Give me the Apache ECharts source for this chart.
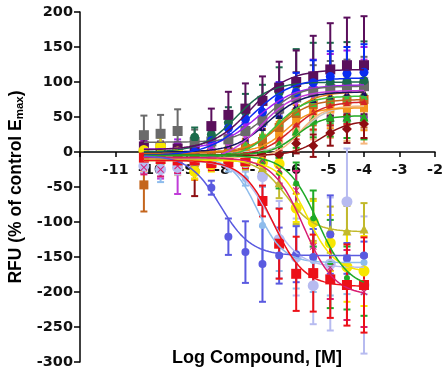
<!DOCTYPE html>
<html>
<head>
<meta charset="utf-8">
<script src="https://cdn.jsdelivr.net/npm/echarts@6/dist/echarts.min.js"></script>
<style>
  html, body { margin: 0; padding: 0; background: #fff; }
  #chart { width: 443px; height: 378px; }
</style>
</head>
<body>
<div id="chart"></div>
<script>
// Log molar concentrations (3-fold dilution series from 100 µM)
const doses = [-10.20, -9.73, -9.25, -8.77, -8.30, -7.82, -7.34, -6.86, -6.39, -5.91, -5.43, -4.95, -4.48, -4.00];

// Axis ticks
const xTicks = [-12, -2, 1];          // min, max, step
const yTicks = [-300, 200, 50];

// Each compound: mean response, SEM, and fitted 4PL parameters
// [low-dose plateau, high-dose plateau, logEC50, hill]
const silverMean = [0, -2, 0, 2, 2, 3, 5, 10, 20, 35, 55, 62, 65, 66];
const silverErr  = [8, 8, 8, 8, 8, 10, 12, 14, 18, 22, 26, 30, 32, 34];
const silverFit  = [0, 66, -5.7, 1.2];

const peachMean = [-12, -14, -15, -20, -10, -5, 0, 5, 15, 32, 52, 60, 62, 62];
const peachErr  = [16, 16, 18, 18, 12, 14, 16, 20, 25, 30, 34, 40, 46, 50];
const peachFit  = [-8, 66, -5.8, 1.3];

const orangeMean = [5, 8, 2, -8, 0, 2, 5, 10, 25, 45, 58, 62, 62, 63];
const orangeErr  = [10, 14, 10, 32, 10, 10, 12, 14, 18, 22, 26, 28, 30, 32];
const orangeFit  = [0, 63, -6.2, 1.2];

const siennaMean = [-47, 2, -5, -12, -2, 0, 5, 15, 35, 55, 68, 72, 74, 75];
const siennaErr  = [38, 10, 10, 12, 10, 12, 14, 18, 22, 26, 30, 34, 36, 40];
const siennaFit  = [-2, 75, -6.4, 1.0];

const amberMean = [3, 2, 0, -2, 0, 5, 12, 25, 45, 65, 78, 82, 84, 85];
const amberErr  = [8, 8, 8, 8, 8, 10, 12, 16, 20, 24, 28, 30, 32, 34];
const amberFit  = [0, 86, -6.3, 1.0];

const limeMean = [-10, -12, -8, -5, -3, 2, 10, 25, 42, 58, 70, 75, 78, 80];
const limeErr  = [10, 10, 10, 10, 10, 12, 14, 18, 22, 26, 30, 34, 36, 38];
const limeFit  = [-8, 80, -6.5, 1.0];

const brickMean = [-4, -6, -5, -8, -6, -4, 0, 8, 20, 40, 58, 66, 70, 72];
const brickErr  = [8, 8, 8, 8, 8, 10, 12, 14, 18, 22, 26, 28, 30, 32];
const brickFit  = [-5, 72, -6.0, 1.0];

const navyMean = [2, 0, 2, 2, 5, 10, 20, 35, 52, 66, 75, 80, 84, 85];
const navyErr  = [8, 8, 8, 8, 10, 12, 14, 18, 22, 26, 30, 32, 34, 36];
const navyFit  = [0, 86, -6.7, 0.9];

const orchidMean = [-12, -18, -25, -6, 0, 8, 22, 38, 58, 70, 80, 86, 88, 90];
const orchidErr  = [18, 20, 35, 14, 14, 16, 18, 22, 26, 30, 34, 36, 40, 42];
const orchidFit  = [-12, 88, -6.9, 0.9];

const violetMean = [6, 5, 8, 5, 8, 20, 36, 45, 68, 76, 88, 94, 95, 100];
const violetErr  = [10, 9, 10, 10, 12, 16, 22, 26, 32, 38, 44, 46, 50, 50];
const violetFit  = [4, 96, -7.0, 0.8];

const greenMean = [-5, -8, -3, -2, -4, -2, 0, 5, 12, 30, 47, 50, 50, 50];
const greenErr  = [8, 8, 8, 8, 8, 10, 12, 16, 20, 24, 26, 28, 30, 32];
const greenFit  = [-4, 52, -5.9, 1.2];

const grayMean = [24, 26, 30, 14, 15, 18, 30, 45, 62, 78, 86, 90, 92, 94];
const grayErr  = [28, 27, 31, 18, 18, 20, 24, 28, 32, 36, 38, 40, 40, 42];
const grayFit  = [14, 94, -6.7, 1.0];

const pineMean = [2, 1, 2, 21, 25, 42, 57, 72, 85, 97, 100, 100, 101, 102];
const pineErr  = [6, 6, 6, 14, 14, 22, 26, 24, 36, 50, 56, 56, 56, 56];
const pineFit  = [0, 100, -7.6, 0.9];

const plumMean = [8, 6, 5, 2, 37, 53, 62, 73, 92, 100, 108, 118, 124, 124];
const plumErr  = [10, 9, 9, 10, 25, 33, 36, 35, 37, 45, 58, 66, 68, 70];
const plumFit  = [3, 118, -7.2, 0.8];

const blueMean = [-8, -6, -4, 0, 16, 34, 47, 57, 75, 85, 99, 108, 112, 114];
const blueErr  = [6, 6, 6, 8, 12, 14, 18, 20, 24, 28, 32, 36, 38, 40];
const blueFit  = [-5, 106, -7.2, 0.75];

const maroonMean = [-3, -2, -5, -25, -8, -6, -5, -4, -4, 12, 9, 27, 33, 40];
const maroonErr  = [6, 6, 8, 38, 10, 8, 8, 10, 12, 14, 16, 18, 20, 20];
const maroonFit  = [-5, 45, -5.2, 1.1];

const skyMean = [-5, -8, -12, -10, -8, -20, -38, -105, -125, -150, -155, -160, -158, -158];
const skyErr  = [8, 35, 10, 10, 10, 8, 10, 55, 45, 45, 45, 45, 45, 45];
const skyFit  = [-8, -158, -7.0, 1.2];

const lavenderMean = [-20, -25, -22, -15, -10, -10, -15, -35, -125, -150, -191, -160, -71, -190];
const lavenderErr  = [10, 10, 10, 10, 10, 10, 12, 40, 55, 55, 55, 95, 76, 98];
const lavenderFit  = [-12, -165, -6.7, 1.0];

const oliveMean = [-8, -10, -12, -15, -12, -10, -15, -22, -44, -75, -97, -111, -113, -110];
const oliveErr  = [8, 8, 8, 8, 8, 8, 10, 14, 22, 28, 30, 33, 36, 37];
const oliveFit  = [-10, -114, -6.2, 1.1];

const yellowMean = [2, 8, 0, -28, -18, -12, -10, -15, -17, -80, -100, -130, -164, -170];
const yellowErr  = [8, 12, 8, 10, 10, 8, 8, 10, 14, 20, 30, 40, 50, 50];
const yellowFit  = [-12, -172, -5.6, 1.1];

const leafMean = [-5, -5, -5, -8, -10, -5, -8, -15, -30, -45, -95, -160, -180, -190];
const leafErr  = [6, 6, 6, 6, 6, 8, 10, 14, 22, 30, 40, 63, 45, 44];
const leafFit  = [-5, -195, -5.3, 1.0];

const magentaMean = [-22, -25, -20, -12, -10, -8, -8, -12, -25, -55, -135, -165, -190, -200];
const magentaErr  = [10, 10, 10, 8, 8, 8, 10, 12, 20, 28, 40, 45, 50, 50];
const magentaFit  = [-8, -205, -5.7, 1.0];

const slateMean = [-6, -8, -10, -14, -51, -121, -143, -160, -148, -146, -150, -118, -152, -148];
const slateErr  = [8, 8, 8, 10, 10, 26, 44, 54, 40, 40, 40, 56, 22, 20];
const slateFit  = [-5, -148, -8.05, 1.0];

const redMean = [-8, -10, -12, -12, -16, -15, -13, -70, -131, -174, -173, -182, -190, -190];
const redErr  = [6, 6, 6, 8, 10, 8, 10, 22, 50, 53, 55, 55, 58, 68];
const redFit  = [-12, -192, -6.55, 1.0];

const CROSS = 'path://M1,0L5,4L9,0L10,1L6,5L10,9L9,10L5,6L1,10L0,9L4,5L0,1Z';

// Drawing order and marker styles (later entries are drawn on top)
const compounds = [
  { mean: silverMean,  err: silverErr,  fit: silverFit,  color: '#c4c4c4', symbol: 'circle',   size: 7 },
  { mean: peachMean,   err: peachErr,   fit: peachFit,   color: '#f6b77e', symbol: 'rect',     size: 8 },
  { mean: orangeMean,  err: orangeErr,  fit: orangeFit,  color: '#f5951c', symbol: 'rect',     size: 8 },
  { mean: siennaMean,  err: siennaErr,  fit: siennaFit,  color: '#c4651c', symbol: 'rect',     size: 9 },
  { mean: amberMean,   err: amberErr,   fit: amberFit,   color: '#e07a10', symbol: 'triangle', size: 8 },
  { mean: limeMean,    err: limeErr,    fit: limeFit,    color: '#3cbf3c', symbol: 'triangle', size: 8 },
  { mean: brickMean,   err: brickErr,   fit: brickFit,   color: '#d42424', symbol: 'triangle', size: 7 },
  { mean: navyMean,    err: navyErr,    fit: navyFit,    color: '#14145e', symbol: 'triangle', size: 7 },
  { mean: orchidMean,  err: orchidErr,  fit: orchidFit,  color: '#c03cd8', symbol: 'triangle', size: 9, rotate: 180 },
  { mean: violetMean,  err: violetErr,  fit: violetFit,  color: '#a21ff0', symbol: 'triangle', size: 9, rotate: 180 },
  { mean: greenMean,   err: greenErr,   fit: greenFit,   color: '#22a822', symbol: 'triangle', size: 9 },
  { mean: grayMean,    err: grayErr,    fit: grayFit,    color: '#6a6a6a', symbol: 'rect',     size: 10 },
  { mean: pineMean,    err: pineErr,    fit: pineFit,    color: '#1b6b4c', symbol: 'circle',   size: 9 },
  { mean: plumMean,    err: plumErr,    fit: plumFit,    color: '#5a0f5c', symbol: 'rect',     size: 10 },
  { mean: blueMean,    err: blueErr,    fit: blueFit,    color: '#0a2cf0', symbol: 'circle',   size: 9 },
  { mean: maroonMean,  err: maroonErr,  fit: maroonFit,  color: '#8e0e12', symbol: 'diamond',  size: 10 },
  { mean: skyMean,     err: skyErr,     fit: skyFit,     color: '#8ebcec', symbol: 'circle',   size: 7 },
  { mean: lavenderMean,err: lavenderErr,fit: lavenderFit,color: '#b7bbf0', symbol: 'circle',   size: 11 },
  { mean: oliveMean,   err: oliveErr,   fit: oliveFit,   color: '#c2b92c', symbol: 'triangle', size: 9 },
  { mean: yellowMean,  err: yellowErr,  fit: yellowFit,  color: '#f7e600', symbol: 'circle',   size: 11 },
  { mean: leafMean,    err: leafErr,    fit: leafFit,    color: '#1eaa28', symbol: 'circle',   size: 6 },
  { mean: magentaMean, err: magentaErr, fit: magentaFit, color: '#d81c72', symbol: CROSS,      size: 7 },
  { mean: slateMean,   err: slateErr,   fit: slateFit,   color: '#5a5ae0', symbol: 'circle',   size: 8 },
  { mean: redMean,     err: redErr,     fit: redFit,     color: '#ec1018', symbol: 'rect',     size: 10 }
];

// Four-parameter logistic fit: low-dose plateau -> high-dose plateau
function logistic(p, x) {
  const [start, end, ec50, hill] = p;
  return start + (end - start) / (1 + Math.pow(10, (ec50 - x) * hill));
}

const curveX = [];
for (let x = doses[0]; x <= doses[doses.length - 1] + 1e-9; x += 0.04) curveX.push(x);
curveX.push(doses[doses.length - 1]);

const series = [];
compounds.forEach(c => {
  // SEM error bars with caps
  series.push({
    type: 'custom',
    silent: true,
    data: doses.map((d, i) => [d, c.mean[i] - c.err[i], c.mean[i] + c.err[i]]),
    encode: { x: 0, y: [1, 2] },
    renderItem: (params, api) => {
      const lo = api.coord([api.value(0), api.value(1)]);
      const hi = api.coord([api.value(0), api.value(2)]);
      const w = 3.5;
      const st = { stroke: c.color, lineWidth: 2 };
      return {
        type: 'group',
        children: [
          { type: 'line', shape: { x1: lo[0], y1: lo[1], x2: hi[0], y2: hi[1] }, style: st },
          { type: 'line', shape: { x1: hi[0] - w, y1: hi[1], x2: hi[0] + w, y2: hi[1] }, style: st },
          { type: 'line', shape: { x1: lo[0] - w, y1: lo[1], x2: lo[0] + w, y2: lo[1] }, style: st }
        ]
      };
    }
  });
  // fitted curve
  series.push({
    type: 'line',
    silent: true,
    showSymbol: false,
    data: curveX.map(x => [x, logistic(c.fit, x)]),
    lineStyle: { color: c.color, width: 1.5 }
  });
  // mean markers
  series.push({
    type: 'scatter',
    silent: true,
    data: doses.map((d, i) => [d, c.mean[i]]),
    symbol: c.symbol,
    symbolSize: c.size,
    symbolRotate: c.rotate || 0,
    itemStyle: { color: c.color, opacity: 1 }
  });
});

const tickFont = { fontFamily: 'DejaVu Sans', fontWeight: 'bold', fontSize: 14.5, color: '#111' };

// plot area geometry
const gridTop = 12, gridBottom = 16, plotHeight = 378 - gridTop - gridBottom;
// shift the x axis up to the zero line of the y scale
const zeroOffset = -plotHeight * (0 - yTicks[0]) / (yTicks[1] - yTicks[0]);

const chart = echarts.init(document.getElementById('chart'), null, { renderer: 'canvas' });
chart.setOption({
  animation: false,
  backgroundColor: '#fff',
  grid: { left: 80, right: 8, top: gridTop, bottom: gridBottom, containLabel: false, outerBoundsMode: 'none' },
  xAxis: {
    type: 'value',
    min: xTicks[0], max: xTicks[1], interval: xTicks[2],
    position: 'bottom',
    offset: zeroOffset,
    axisLine: { show: true, onZero: false, lineStyle: { color: '#000', width: 1.5 } },
    axisTick: { show: true, length: 5, lineStyle: { color: '#000', width: 1.5 } },
    axisLabel: Object.assign({ margin: 11, formatter: v => (v === xTicks[0] ? '' : String(v)) }, tickFont),
    splitLine: { show: false }
  },
  yAxis: {
    type: 'value',
    min: yTicks[0], max: yTicks[1], interval: yTicks[2],
    axisLine: { show: true, lineStyle: { color: '#000', width: 1.5 } },
    axisTick: { show: true, length: 6, lineStyle: { color: '#000', width: 1.5 } },
    axisLabel: Object.assign({ margin: 7 }, tickFont),
    splitLine: { show: false },
    name: 'RFU (% of control E{sub|max})',
    nameLocation: 'middle',
    nameGap: 52,
    nameRotate: 90,
    nameTextStyle: {
      fontFamily: 'Liberation Sans', fontWeight: 'bold', fontSize: 17.5, color: '#000',
      rich: { sub: { fontFamily: 'Liberation Sans', fontWeight: 'bold', fontSize: 11.5, color: '#000', padding: [7, 0, 0, 0] } }
    }
  },
  graphic: [{
    type: 'text',
    x: 257, y: 358,
    style: { text: 'Log Compound, [M]', font: 'bold 18px "Liberation Sans"', fill: '#000', textAlign: 'center', textVerticalAlign: 'middle' }
  }],
  series: series
});
</script>
</body>
</html>
